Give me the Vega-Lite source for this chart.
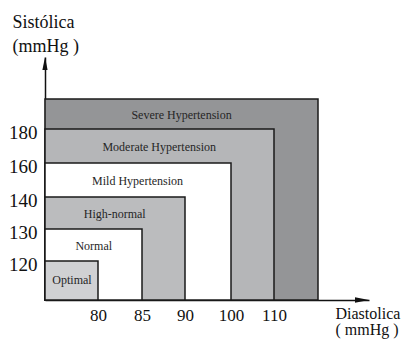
{
  "$schema": "https://vega.github.io/schema/vega-lite/v6.json",
  "width": 367,
  "height": 300,
  "autosize": "none",
  "padding": {"left": 45, "top": 0, "right": 0, "bottom": 40},
  "background": "white",
  "config": {
    "view": {"stroke": null},
    "font": "Liberation Serif",
    "axis": {"labelFont": "Times New Roman, serif", "titleFont": "Times New Roman, serif"},
    "text": {"font": "Liberation Serif"}
  },
  "data": {
    "values": [
      {"category": "Severe Hypertension", "dia_lo": 70, "dia": 120, "sys_lo": 100, "sys": 200, "label_dia": 89.6, "label_sys": 190},
      {"category": "Moderate Hypertension", "dia_lo": 70, "dia": 110, "sys_lo": 100, "sys": 180, "label_dia": 87.0, "label_sys": 170},
      {"category": "Mild Hypertension", "dia_lo": 70, "dia": 100, "sys_lo": 100, "sys": 160, "label_dia": 84.5, "label_sys": 150},
      {"category": "High-normal", "dia_lo": 70, "dia": 90, "sys_lo": 100, "sys": 140, "label_dia": 81.9, "label_sys": 135},
      {"category": "Normal", "dia_lo": 70, "dia": 85, "sys_lo": 100, "sys": 130, "label_dia": 79.2, "label_sys": 125},
      {"category": "Optimal", "dia_lo": 70, "dia": 80, "sys_lo": 100, "sys": 120, "label_dia": 75.1, "label_sys": 111}
    ]
  },
  "layer": [
    {
      "mark": {"type": "rect", "stroke": "#1a1a1a", "strokeWidth": 1.5},
      "encoding": {
        "x": {
          "field": "dia_lo", "type": "quantitative",
          "scale": {"type": "linear", "domain": [70, 80, 85, 90, 100, 110, 120, 130], "range": [0, 53, 97, 140, 186, 229, 273, 324], "zero": false, "nice": false},
          "axis": {
            "values": [80, 85, 90, 100, 110], "grid": false, "ticks": false, "tickSize": 0,
            "labelFontSize": 17, "labelPadding": 7, "labelColor": "#111",
            "domainColor": "#111", "domainWidth": 1.5,
            "title": ["Diastolica", "( mmHg )"], "titleX": 290, "titleY": 18, "titleAlign": "left", "titleBaseline": "alphabetic",
            "titleFontSize": 16, "titleFontWeight": "normal", "titleLineHeight": 16, "titleColor": "#111"
          }
        },
        "x2": {"field": "dia"},
        "y": {
          "field": "sys_lo", "type": "quantitative",
          "scale": {"type": "linear", "domain": [100, 120, 130, 140, 160, 180, 200, 220], "range": [300, 261, 229, 197, 163, 129, 99, 57], "zero": false, "nice": false},
          "axis": {
            "values": [120, 130, 140, 160, 180], "grid": false, "ticks": false, "tickSize": 0,
            "labelFontSize": 19, "labelPadding": 8, "labelColor": "#111", "labelBaseline": "middle", "labelOffset": 3,
            "domainColor": "#111", "domainWidth": 1.5,
            "title": ["Sistólica", "(mmHg )"], "titleAngle": 0, "titleX": -33, "titleY": 27, "titleAlign": "left", "titleBaseline": "alphabetic",
            "titleFontSize": 18, "titleFontWeight": "normal", "titleLineHeight": 24, "titleColor": "#111"
          }
        },
        "y2": {"field": "sys"},
        "color": {
          "field": "category", "type": "nominal", "legend": null,
          "scale": {
            "domain": ["Severe Hypertension", "Moderate Hypertension", "Mild Hypertension", "High-normal", "Normal", "Optimal"],
            "range": ["#949597", "#b5b6b8", "#ffffff", "#bbbcbe", "#ffffff", "#d0d1d3"]
          }
        },
        "opacity": {"value": 1}
      }
    },
    {
      "mark": {"type": "text", "fontSize": 12, "font": "Liberation Serif", "color": "#262626", "baseline": "middle", "align": "center", "dy": 1},
      "encoding": {
        "x": {"field": "label_dia", "type": "quantitative"},
        "y": {"field": "label_sys", "type": "quantitative"},
        "text": {"field": "category"}
      }
    },
    {
      "data": {"values": [{"dia": 130, "sys": 100}]},
      "mark": {"type": "point", "shape": "M 0 0 L -1 -0.2 L -1 0.2 Z", "filled": true, "color": "#111", "opacity": 1, "size": 784},
      "encoding": {
        "x": {"field": "dia", "type": "quantitative"},
        "y": {"field": "sys", "type": "quantitative"}
      }
    },
    {
      "data": {"values": [{"dia": 70, "sys": 220}]},
      "mark": {"type": "point", "shape": "M 0 0 L -0.2 1 L 0.2 1 Z", "filled": true, "color": "#111", "opacity": 1, "size": 676},
      "encoding": {
        "x": {"field": "dia", "type": "quantitative"},
        "y": {"field": "sys", "type": "quantitative"}
      }
    }
  ]
}
